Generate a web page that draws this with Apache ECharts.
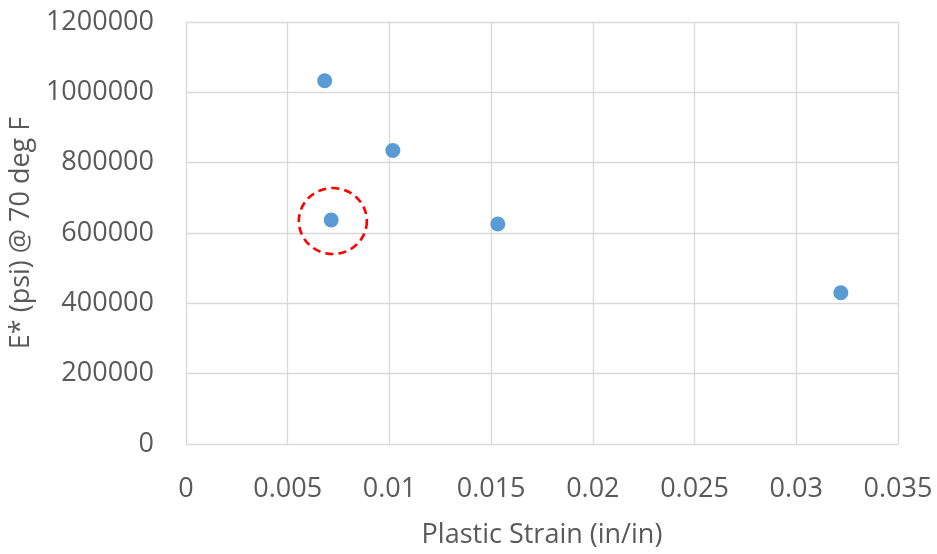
<!DOCTYPE html>
<html>
<head>
<meta charset="utf-8">
<script src="https://cdn.jsdelivr.net/npm/echarts@6/dist/echarts.min.js"></script>
<style>
  html, body { margin: 0; padding: 0; background: #fff; overflow: hidden; }
  #chart { width: 937px; height: 554px; }
</style>
</head>
<body>
<div id="chart"></div>
<script>
// Plastic strain (in/in) vs. dynamic modulus E* (psi) at 70 deg F
const plasticStrain = [0.00682, 0.01017, 0.00714, 0.01533, 0.03219];
const modulusPsi    = [1033000, 834500, 637000, 625500, 430000];

// Highlighted specimen (ringed with a dashed circle)
const highlightStrain = [0.00722];
const highlightModulus = [634000];

const xTicks = { min: 0, max: 0.035, interval: 0.005 };
const yTicks = { min: 0, max: 1200000, interval: 200000 };

const xTitle = 'Plastic Strain (in/in)';
const yTitle = 'E* (psi) @ 70 deg F';

const FONT = '"Open Sans", sans-serif';
const TEXT = '#595959';
const GRID = '#d9d9d9';

const chart = echarts.init(document.getElementById('chart'), null, { renderer: 'canvas' });

chart.setOption({
  animation: false,
  backgroundColor: '#ffffff',
  grid: { left: 181, right: 39, top: 22, bottom: 97, containLabel: false },
  xAxis: {
    type: 'value',
    min: xTicks.min, max: xTicks.max, interval: xTicks.interval,
    name: xTitle,
    nameLocation: 'middle',
    nameGap: 78,
    nameTextStyle: { fontFamily: FONT, fontSize: 27, color: TEXT },
    axisLine: { show: false },
    axisTick: { show: false },
    axisLabel: {
      fontFamily: FONT, fontSize: 27, color: TEXT, margin: 32,
      formatter: v => String(+v.toFixed(3))
    },
    splitLine: { show: true, lineStyle: { color: GRID, width: 1.3 } }
  },
  yAxis: {
    type: 'value',
    min: yTicks.min, max: yTicks.max, interval: yTicks.interval,
    name: yTitle,
    nameLocation: 'middle',
    nameGap: 142,
    nameRotate: 90,
    nameTextStyle: { fontFamily: FONT, fontSize: 27, color: TEXT },
    axisLine: { show: false },
    axisTick: { show: false },
    axisLabel: {
      fontFamily: FONT, fontSize: 27, color: TEXT, margin: 32,
      formatter: v => String(v)
    },
    splitLine: { show: true, lineStyle: { color: GRID, width: 1.3 } }
  },
  series: [
    {
      type: 'scatter',
      data: plasticStrain.map((x, i) => [x, modulusPsi[i]]),
      symbol: 'circle',
      symbolSize: 15,
      itemStyle: { color: '#5B9BD5', opacity: 1 },
      z: 3
    },
    {
      type: 'scatter',
      data: highlightStrain.map((x, i) => [x, highlightModulus[i]]),
      symbol: 'circle',
      symbolSize: [68, 66],
      itemStyle: {
        color: 'rgba(0,0,0,0)',
        borderColor: '#FF0000',
        borderWidth: 2.6,
        borderType: [8, 5],
        opacity: 1
      },
      silent: true,
      z: 2
    }
  ]
});
</script>
</body>
</html>
